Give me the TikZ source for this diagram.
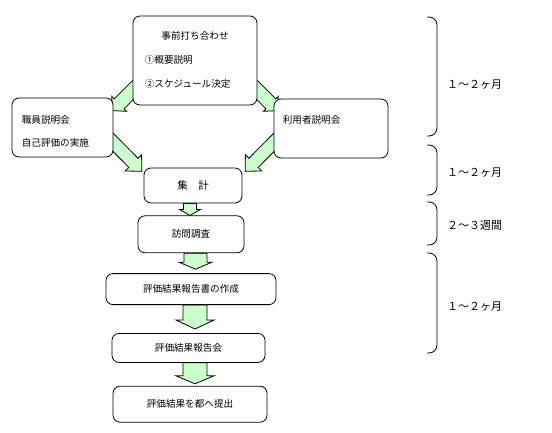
\documentclass[tikz,border=0pt]{standalone}
\usepackage{fontspec}
\setmainfont{Noto Sans CJK JP}
\usetikzlibrary{calc,positioning,backgrounds}
\definecolor{Leaf}{HTML}{CCFFCC}
\tikzset{
  flowbox/.style={draw=black,line width=0.8pt,rounded corners=7pt,fill=white,inner sep=0pt,font=\fontsize{9.6pt}{11pt}\selectfont},
  boxtext/.style={inner sep=0pt,font=\fontsize{9.6pt}{11pt}\selectfont},
  greenarrow/.style={draw=black,line width=0.8pt,fill=Leaf,line join=miter},
  periodbrace/.style={draw=black,line width=0.8pt,rounded corners=8pt},
  periodtext/.style={anchor=west,inner sep=0pt,font=\fontsize{11pt}{13pt}\selectfont}
}
% tail, tip, shaft half width, head half width, head length
\newcommand\blockarrow[5]{%
  \path (#1) coordinate (ba-s) (#2) coordinate (ba-e);
  \coordinate (ba-h) at ($(ba-e)!#5!(ba-s)$);
  \draw[greenarrow] ($(ba-s)!#3!90:(ba-e)$) -- ($(ba-h)!#3!-90:(ba-s)$) -- ($(ba-h)!#4!-90:(ba-s)$) -- (ba-e)
    -- ($(ba-h)!#4!90:(ba-s)$) -- ($(ba-h)!#3!90:(ba-s)$) -- ($(ba-s)!#3!-90:(ba-e)$) -- cycle;}

\begin{document}
\begin{tikzpicture}[x=1pt,y=-1pt]
  \useasboundingbox (0,0) rectangle (552,432);
  \node[flowbox,minimum width=124pt,minimum height=89pt] (jizen) at (195,60.5) {};
  \node[flowbox,minimum width=101pt,minimum height=59pt] (shokuin) at (62.5,127.5) {};
  \node[flowbox,minimum width=114pt,minimum height=59pt] (riyousha) at (331,128.5) {};
  \node[flowbox,minimum width=98pt,minimum height=35pt,font=\fontsize{10.5pt}{12pt}\selectfont] (shukei) at (193,185.5) {集　計};
  \node[flowbox,below=12pt of shukei,xshift=-2pt,minimum width=106pt,minimum height=37pt] (houmon) {訪問調査};
  \node[flowbox,below=20pt of houmon,minimum width=170pt,minimum height=31pt] (hokokusho) {評価結果報告書の作成};
  \node[flowbox,below=28pt of hokokusho,xshift=-2.5pt,minimum width=153pt,minimum height=29pt] (hokokukai) {評価結果報告会};
  \node[flowbox,below=23pt of hokokukai,xshift=1.5pt,minimum width=154pt,minimum height=36pt] (teishutsu) {評価結果を都へ提出};

  \node[boxtext] (jizen-a) at ([yshift=-20pt]jizen.north) {事前打ち合わせ};
  \node[boxtext,anchor=west] (jizen-b) at ([xshift=12pt,yshift=-44pt]jizen.north west) {①概要説明};
  \node[boxtext,anchor=west] (jizen-c) at ([xshift=12pt,yshift=-68pt]jizen.north west) {②スケジュール決定};
  \node[boxtext,anchor=west] (shokuin-a) at ([xshift=10pt,yshift=-22pt]shokuin.north west) {職員説明会};
  \node[boxtext,anchor=west] (shokuin-b) at ([xshift=10pt,yshift=-45pt]shokuin.north west) {自己評価の実施};
  \node[boxtext,anchor=west] (riyousha-a) at ([xshift=9pt,yshift=-21pt]riyousha.north west) {利用者説明会};

  \begin{scope}[on background layer]
    \blockarrow{[xshift=17pt,yshift=32pt]jizen.south west}{[xshift=-1pt,yshift=-13pt]shokuin.north east}{7pt}{10.5pt}{9.5pt}
    \blockarrow{[xshift=-17pt,yshift=32pt]jizen.south east}{[xshift=4pt,yshift=-12pt]riyousha.north west}{7pt}{10.5pt}{9.5pt}
    \blockarrow{[xshift=-13pt,yshift=-2pt]shokuin.east}{[xshift=-1.75pt,yshift=-3.75pt]shukei.north west}{6.5pt}{11.5pt}{12pt}
    \blockarrow{[xshift=13pt,yshift=-1pt]riyousha.west}{[xshift=2.75pt,yshift=-3.75pt]shukei.north east}{6.5pt}{11.5pt}{12pt}
    \blockarrow{[xshift=-3pt]shukei.south}{[xshift=-1pt]houmon.north}{6.5pt}{10.5pt}{6pt}
    \blockarrow{[xshift=4.5pt]houmon.south}{[xshift=4.5pt,yshift=4pt]hokokusho.north}{11.5pt}{16.5pt}{7pt}
    \blockarrow{[xshift=4pt]hokokusho.south}{[xshift=6.5pt,yshift=4pt]hokokukai.north}{12pt}{19pt}{9pt}
    \blockarrow{[xshift=6.5pt]hokokukai.south}{[xshift=5pt,yshift=2pt]teishutsu.north}{12pt}{19pt}{8pt}
  \end{scope}

  \draw[periodbrace] (427,17) -| (437,76) |- (427,136);
  \draw[periodbrace] (427,145) -| (437,170) |- (427,195);
  \draw[periodbrace] (427,202) -| (437,223) |- (427,245);
  \draw[periodbrace] (427,253) -| (437,303) |- (427,353);
  \node[periodtext] (kikan1) at (447,85) {１～２ヶ月};
  \node[periodtext] (kikan2) at (447,173) {１～２ヶ月};
  \node[periodtext] (kikan3) at (447,225) {２～３週間};
  \node[periodtext] (kikan4) at (447,307) {１～２ヶ月};
\end{tikzpicture}
\end{document}
